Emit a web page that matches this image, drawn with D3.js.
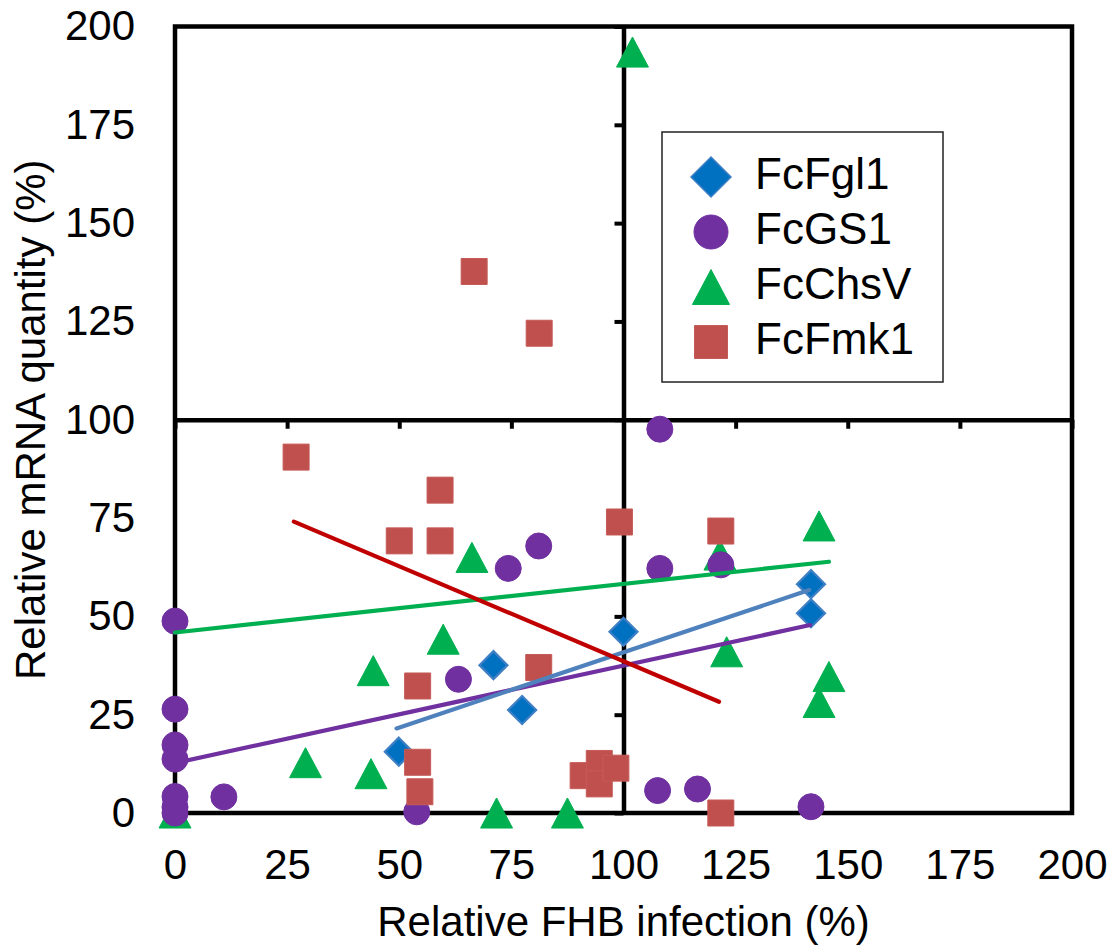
<!DOCTYPE html>
<html>
<head>
<meta charset="utf-8">
<script src="https://cdn.jsdelivr.net/npm/d3@7"></script>
<style>
  html, body { margin: 0; padding: 0; background: #fff; }
  svg { display: block; }
  text { font-family: "Liberation Sans", Arial, sans-serif; fill: #000; }
</style>
</head>
<body>
<svg id="chart" width="1109" height="946"></svg>
<script>
// ---- data ----
const seriesNames = ["FcFgl1", "FcGS1", "FcChsV", "FcFmk1"];
const xTicks = [0, 25, 50, 75, 100, 125, 150, 175, 200];
const yTicks = [0, 25, 50, 75, 100, 125, 150, 175, 200];

const fgl1X = [49.9, 71.0, 77.4, 100.0, 141.8, 141.8];
const fgl1Y = [15.6, 37.6, 26.2, 46.1, 58.2, 50.8];

const gs1X = [0, 0, 0, 0, 0, 0, 0, 10.9, 53.9, 63.2, 74.3, 81.1, 108.1, 108.1, 121.7, 107.6, 116.5, 141.8];
const gs1Y = [48.8, 26.4, 17.3, 13.7, 4.2, 1.5, 0, 4.1, 0.3, 34.0, 62.2, 67.9, 97.6, 62.2, 63.1, 5.7, 6.1, 1.6];

const chsX = [102, 0, 29.1, 43.7, 44.2, 59.8, 66.2, 71.7, 87.5, 121.5, 123, 143.6, 145.8, 143.6];
const chsY = [193.5, 0, 12.8, 10, 36.2, 44.2, 65, 0, 0, 65.6, 41, 73, 34.7, 28.1];

const fmkX = [66.7, 81.2, 27, 59.1, 50, 59.1, 54.1, 54.1, 54.6, 81.1, 99.1, 121.7, 121.7, 91, 94.6, 94.6, 98.3];
const fmkY = [137.7, 122, 90.5, 82.1, 69.2, 69.2, 32.3, 12.9, 5.4, 37, 74, 71.7, 0, 9.5, 12.6, 7.4, 11.4];

// trend line end points
const trendFgl1 = [[49.4, 21.5], [141.4, 56.7]];
const trendGS1 = [[0, 12.7], [141.6, 47.8]];
const trendChsV = [[0, 45.9], [145.8, 63.9]];
const trendFmk1 = [[26.5, 74.1], [121.3, 28.3]];

// ---- layout ----
const svg = d3.select("#chart");
const L = 175, R = 1072, T = 26.5, B = 813;
const x = d3.scaleLinear().domain([0, 200]).range([L, R]);
const y = d3.scaleLinear().domain([0, 200]).range([B, T]);

const style = {
  FcFgl1: { fill: "#0070C0", stroke: "#3F7FC4", shape: "diamond", line: "#4F81BD" },
  FcGS1: { fill: "#7030A0", stroke: "#7030A0", shape: "circle", line: "#7030A0" },
  FcChsV: { fill: "#00B050", stroke: "#00B050", shape: "triangle", line: "#00B050" },
  FcFmk1: { fill: "#C0504D", stroke: "#C55B58", shape: "square", line: "#C00000" }
};

function shapePath(shape, s) {
  const p = d3.path();
  if (shape === "diamond") {
    p.moveTo(0, -s); p.lineTo(s, 0); p.lineTo(0, s); p.lineTo(-s, 0); p.closePath();
  } else if (shape === "circle") {
    p.arc(0, 0, s, 0, 2 * Math.PI); p.closePath();
  } else if (shape === "triangle") {
    const w = s * 1.03, h = s * 0.97;
    p.moveTo(0, -h); p.lineTo(w, h); p.lineTo(-w, h); p.closePath();
  } else {
    p.rect(-s, -s, 2 * s, 2 * s);
  }
  return p.toString();
}
const plotSize = { diamond: 14, circle: 13, triangle: 15.5, square: 13 };
const legendSize = { diamond: 20, circle: 17, triangle: 18, square: 16.5 };

// frame
svg.append("rect")
  .attr("x", L).attr("y", T).attr("width", R - L).attr("height", B - T)
  .attr("fill", "none").attr("stroke", "#000").attr("stroke-width", 4.5);

// tick labels at the low side
const yLab = svg.append("g").attr("transform", `translate(${L},0)`)
  .call(d3.axisLeft(y).tickValues(yTicks).tickSize(0).tickPadding(40));
yLab.select(".domain").remove();
yLab.selectAll("text").style("font-size", "42px").attr("font-family", null);

const xLab = svg.append("g").attr("transform", `translate(0,${B})`)
  .call(d3.axisBottom(x).tickValues(xTicks).tickSize(0).tickPadding(36));
xLab.select(".domain").remove();
xLab.selectAll("text").style("font-size", "42px").attr("font-family", null);

// crossing axes at (100,100)
const hAxis = svg.append("g").attr("transform", `translate(0,${y(100)})`)
  .call(d3.axisBottom(x).tickValues(xTicks).tickSize(9).tickSizeOuter(0).tickFormat(""));
hAxis.select(".domain").attr("stroke-width", 4.5);
hAxis.selectAll(".tick line").attr("stroke-width", 4);

const vAxis = svg.append("g").attr("transform", `translate(${x(100)},0)`)
  .call(d3.axisLeft(y).tickValues(yTicks).tickSize(9).tickSizeOuter(0).tickFormat(""));
vAxis.select(".domain").attr("stroke-width", 4.5);
vAxis.selectAll(".tick line").attr("stroke-width", 4);

// markers (drawing order as in reference)
function drawSeries(name, xs, ys) {
  const st = style[name];
  const pts = xs.map((v, i) => [v, ys[i]]);
  svg.append("g").selectAll("path").data(pts).join("path")
    .attr("transform", d => `translate(${x(d[0])},${y(d[1])})`)
    .attr("d", shapePath(st.shape, plotSize[st.shape]))
    .attr("fill", st.fill)
    .attr("stroke", st.stroke)
    .attr("stroke-width", st.shape === "diamond" ? 2.2 : 1);
}
drawSeries("FcChsV", chsX, chsY);
drawSeries("FcFgl1", fgl1X, fgl1Y);
drawSeries("FcGS1", gs1X, gs1Y);
drawSeries("FcFmk1", fmkX, fmkY);

// trend lines
const line = d3.line().x(d => x(d[0])).y(d => y(d[1]));
[["FcChsV", trendChsV], ["FcGS1", trendGS1], ["FcFgl1", trendFgl1], ["FcFmk1", trendFmk1]].forEach(([n, t]) => {
  svg.append("path").attr("d", line(t))
    .attr("fill", "none").attr("stroke", style[n].line)
    .attr("stroke-width", 4.2).attr("stroke-linecap", "round");
});

// legend
const lg = svg.append("g");
lg.append("rect").attr("x", 662).attr("y", 132).attr("width", 281).attr("height", 250)
  .attr("fill", "#fff").attr("stroke", "#222").attr("stroke-width", 1.5);
const rowY = [177, 232, 287, 342];
seriesNames.forEach((n, i) => {
  const st = style[n];
  lg.append("path")
    .attr("transform", `translate(711,${rowY[i]})`)
    .attr("d", shapePath(st.shape, legendSize[st.shape]))
    .attr("fill", st.fill).attr("stroke", st.stroke)
    .attr("stroke-width", st.shape === "diamond" ? 1.5 : 1);
  lg.append("text").attr("x", 755).attr("y", rowY[i] + 12)
    .style("font-size", "44px").text(n);
});

// axis titles
svg.append("text").attr("x", x(100)).attr("y", 936)
  .attr("text-anchor", "middle").style("font-size", "42px")
  .text("Relative FHB infection (%)");
svg.append("text").attr("transform", `translate(45,${y(100)}) rotate(-90)`)
  .attr("text-anchor", "middle").style("font-size", "42px")
  .text("Relative mRNA quantity (%)");
</script>
</body>
</html>
